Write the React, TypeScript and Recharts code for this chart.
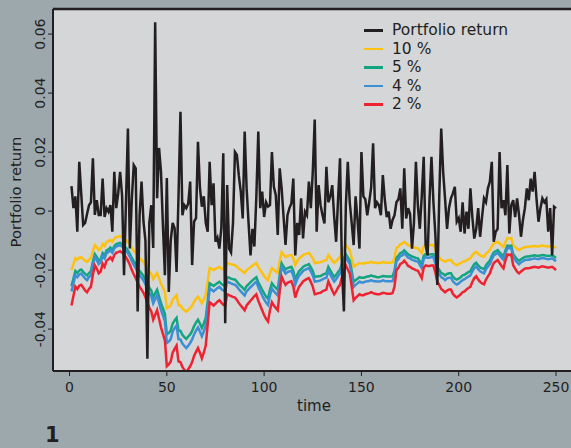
import React from "react";
import { LineChart, Line, CartesianGrid, XAxis, YAxis, ReferenceLine } from "recharts";

// daily portfolio return, t = 1..250
const portfolio = [
  0.0085, 0.001, 0.005, -0.007, 0.0167, 0.006, -0.0047, -0.004, -0.001, 0.002,
  0.003, 0.0179, -0.0013, 0.0037, -0.0013, -0.0013, 0.011, -0.002, 0.001, -0.0002,
  0.002, -0.007, 0.0133, 0.001, 0.006, 0.0133, 0.0053, -0.0217, 0.003, 0.028,
  -0.0127, 0.004, 0.0156, 0.0145, -0.034, -0.0014, 0.01, -0.0036, -0.01, -0.05,
  -0.004, 0.002, -0.0125, 0.064, 0.0044, 0.0214, 0.0133, -0.005, -0.0217, 0.0112,
  -0.0274, -0.01, -0.004, -0.0058, -0.0206, 0.005, 0.0337, -0.0014, 0.002, 0.001,
  0.0026, 0.01, -0.0183, -0.0036, -0.0024, 0.0235, 0.008, 0.0015, 0.005, -0.004,
  -0.007, 0.0167, 0.002, 0.0094, -0.0104, -0.009, -0.0127, -0.0058, 0.0196, -0.038,
  0.0088, -0.0127, -0.014, -0.004, 0.02, 0.019, 0.012, 0.0066, -0.0025, 0.027,
  0.0077, -0.004, -0.015, -0.006, -0.012, 0.005, 0.027, 0.001, 0.0066, -0.002,
  0.003, 0.0015, 0.002, 0.02, 0.0082, 0.0054, -0.0081, 0.0145, 0.0077, -0.002,
  -0.0115, -0.0014, 0.001, 0.0026, 0.011, -0.015, -0.004, -0.0081, 0.0043, -0.0093,
  -0.0002, -0.0014, 0.01, 0.001, 0.0133, 0.031, -0.007, 0.0088, 0.002, -0.0014,
  -0.0042, 0.015, 0.003, 0.005, 0.0088, -0.002, -0.0104, 0.004, 0.0179, -0.0193,
  -0.034, 0.002, 0.0167, 0.003, -0.004, -0.0115, 0.005, -0.003, -0.0127, 0.02,
  0.005, 0.004, -0.0014, 0.003, 0.008, 0.023, 0.001, 0.003, 0.002, -0.0014,
  0.0122, 0.004, -0.002, -0.0002, -0.006, -0.003, -0.0014, 0.003, 0.004, 0.0077,
  -0.006, 0.0145, -0.0025, 0.001, -0.001, -0.0127, -0.004, 0.0167, 0.002, -0.006,
  0.005, 0.0184, -0.0115, -0.015, 0.004, 0.0184, 0.003, -0.008, -0.025, 0.005,
  0.028, 0.0133, 0.004, -0.006, 0.001, 0.0043, 0.006, 0.0082, -0.0036, -0.0024,
  -0.007, 0.003, -0.0076, -0.0002, -0.006, 0.0077, -0.002, -0.0093, -0.006, 0.001,
  -0.0087, -0.002, 0.0043, 0.003, 0.0077, 0.01, 0.0167, -0.0104, -0.007, -0.006,
  0.02, 0.001, 0.0037, -0.0014, 0.0156, -0.0076, 0.002, 0.0037, -0.002, 0.0043,
  -0.0014, -0.0087, -0.003, 0.001, 0.0077, 0.0037, 0.011, 0.0066, 0.0133, 0.004,
  -0.0036, 0.001, 0.0043, 0.003, 0.004, -0.007, 0.001, -0.015, 0.0015, 0.001,
];

const var10 = [
  -0.02, -0.018, -0.016, -0.0165, -0.0158, -0.0156, -0.0162, -0.0168, -0.0172, -0.0165,
  -0.016, -0.0135, -0.0115, -0.0122, -0.0132, -0.0128, -0.0112, -0.0118, -0.0105, -0.0102,
  -0.0098, -0.0104, -0.0093, -0.0088, -0.0087, -0.0085, -0.0088, -0.0092, -0.0098, -0.0105,
  -0.0114, -0.0125, -0.0134, -0.0142, -0.0152, -0.016, -0.0166, -0.0173, -0.0182, -0.0193,
  -0.0205, -0.0212, -0.023, -0.022, -0.021, -0.0228, -0.0246, -0.026, -0.0274, -0.0329,
  -0.0325, -0.0319, -0.03, -0.0292, -0.0285, -0.0319, -0.032, -0.033, -0.0336, -0.0341,
  -0.0335, -0.0329, -0.032, -0.0307, -0.0298, -0.029, -0.03, -0.0312, -0.03, -0.0285,
  -0.024, -0.0193, -0.0196, -0.02, -0.0196, -0.0192, -0.0189, -0.0194, -0.0198, -0.02,
  -0.0176, -0.0178, -0.018, -0.0182, -0.0183, -0.0188, -0.0195, -0.02, -0.0205, -0.021,
  -0.02, -0.0195, -0.019, -0.0185, -0.018, -0.0176, -0.019, -0.02, -0.021, -0.022,
  -0.0228, -0.0234, -0.021, -0.0193, -0.02, -0.0205, -0.021, -0.017, -0.0139, -0.0148,
  -0.0156, -0.0152, -0.015, -0.0149, -0.016, -0.0183, -0.017, -0.016, -0.0155, -0.0149,
  -0.0146, -0.0144, -0.0142, -0.015, -0.016, -0.0176, -0.0175, -0.0174, -0.0173, -0.017,
  -0.0168, -0.0166, -0.0149, -0.0158, -0.0168, -0.0176, -0.017, -0.0162, -0.0156, -0.014,
  -0.0125, -0.0115, -0.0124, -0.0132, -0.016, -0.0189, -0.0184, -0.018, -0.0176, -0.0178,
  -0.0178, -0.0176, -0.0175, -0.0174, -0.0172, -0.0174, -0.0175, -0.0176, -0.0176, -0.0175,
  -0.0173, -0.0174, -0.0175, -0.0175, -0.0175, -0.0174, -0.016, -0.0125, -0.012, -0.0112,
  -0.011, -0.0105, -0.011, -0.0116, -0.0118, -0.0121, -0.0123, -0.0125, -0.0126, -0.0134,
  -0.0142, -0.012, -0.0115, -0.0116, -0.0116, -0.0115, -0.0115, -0.013, -0.0149, -0.0157,
  -0.0165, -0.0168, -0.0172, -0.0168, -0.0166, -0.0166, -0.0175, -0.018, -0.0183, -0.018,
  -0.0176, -0.0172, -0.017, -0.0166, -0.0163, -0.016, -0.015, -0.0142, -0.0138, -0.0145,
  -0.015, -0.0153, -0.0155, -0.0145, -0.0138, -0.0132, -0.012, -0.011, -0.0107, -0.0104,
  -0.011, -0.0116, -0.0121, -0.0105, -0.0092, -0.0093, -0.0092, -0.0115, -0.0122, -0.0128,
  -0.0132, -0.0128, -0.0125, -0.0122, -0.0121, -0.0121, -0.012, -0.0119, -0.0118, -0.0119,
  -0.012, -0.0118, -0.0117, -0.0118, -0.0119, -0.012, -0.0119, -0.0118, -0.0121, -0.0125,
];

const var5 = [
  -0.0254, -0.0229, -0.0203, -0.021, -0.0201, -0.0198, -0.0206, -0.0213, -0.0218, -0.021,
  -0.0203, -0.0171, -0.0146, -0.0155, -0.0168, -0.0163, -0.0142, -0.015, -0.0133, -0.013,
  -0.0124, -0.0132, -0.0118, -0.0112, -0.011, -0.0108, -0.0112, -0.0117, -0.0124, -0.0133,
  -0.0145, -0.0159, -0.017, -0.018, -0.0193, -0.0203, -0.0211, -0.022, -0.0231, -0.0245,
  -0.026, -0.0269, -0.0292, -0.0279, -0.0267, -0.029, -0.0312, -0.033, -0.0348, -0.0418,
  -0.0413, -0.0405, -0.0381, -0.0371, -0.0362, -0.0405, -0.0406, -0.0419, -0.0427, -0.0433,
  -0.0425, -0.0418, -0.0406, -0.039, -0.0378, -0.0368, -0.0381, -0.0396, -0.0381, -0.0362,
  -0.0305, -0.0245, -0.0249, -0.0254, -0.0249, -0.0244, -0.024, -0.0246, -0.0251, -0.0254,
  -0.0224, -0.0226, -0.0229, -0.0231, -0.0232, -0.0239, -0.0248, -0.0254, -0.026, -0.0267,
  -0.0254, -0.0248, -0.0241, -0.0235, -0.0229, -0.0224, -0.0241, -0.0254, -0.0267, -0.0279,
  -0.029, -0.0297, -0.0267, -0.0245, -0.0254, -0.026, -0.0267, -0.0216, -0.0177, -0.0188,
  -0.0198, -0.0193, -0.0191, -0.0189, -0.0203, -0.0232, -0.0216, -0.0203, -0.0197, -0.0189,
  -0.0185, -0.0183, -0.018, -0.0191, -0.0203, -0.0224, -0.0222, -0.0221, -0.022, -0.0216,
  -0.0213, -0.0211, -0.0189, -0.0201, -0.0213, -0.0224, -0.0216, -0.0206, -0.0198, -0.0178,
  -0.0159, -0.0146, -0.0157, -0.0168, -0.0203, -0.024, -0.0234, -0.0229, -0.0224, -0.0226,
  -0.0226, -0.0224, -0.0222, -0.0221, -0.0218, -0.0221, -0.0222, -0.0224, -0.0224, -0.0222,
  -0.022, -0.0221, -0.0222, -0.0222, -0.0222, -0.0221, -0.0203, -0.0159, -0.0152, -0.0142,
  -0.014, -0.0133, -0.014, -0.0147, -0.015, -0.0154, -0.0156, -0.0159, -0.016, -0.017,
  -0.018, -0.0152, -0.0146, -0.0147, -0.0147, -0.0146, -0.0146, -0.0165, -0.0189, -0.0199,
  -0.021, -0.0213, -0.0218, -0.0213, -0.0211, -0.0211, -0.0222, -0.0229, -0.0232, -0.0229,
  -0.0224, -0.0218, -0.0216, -0.0211, -0.0207, -0.0203, -0.0191, -0.018, -0.0175, -0.0184,
  -0.0191, -0.0194, -0.0197, -0.0184, -0.0175, -0.0168, -0.0152, -0.014, -0.0136, -0.0132,
  -0.014, -0.0147, -0.0154, -0.0133, -0.0117, -0.0118, -0.0117, -0.0146, -0.0155, -0.0163,
  -0.0168, -0.0163, -0.0159, -0.0155, -0.0154, -0.0154, -0.0152, -0.0151, -0.015, -0.0151,
  -0.0152, -0.015, -0.0149, -0.015, -0.0151, -0.0152, -0.0151, -0.015, -0.0154, -0.0159,
];

const var4 = [
  -0.0272, -0.0245, -0.0218, -0.0224, -0.0215, -0.0212, -0.022, -0.0228, -0.0234, -0.0224,
  -0.0218, -0.0184, -0.0156, -0.0166, -0.018, -0.0174, -0.0152, -0.016, -0.0143, -0.0139,
  -0.0133, -0.0141, -0.0126, -0.012, -0.0118, -0.0116, -0.012, -0.0125, -0.0133, -0.0143,
  -0.0155, -0.017, -0.0182, -0.0193, -0.0207, -0.0218, -0.0226, -0.0235, -0.0248, -0.0262,
  -0.0279, -0.0288, -0.0313, -0.0299, -0.0286, -0.031, -0.0335, -0.0354, -0.0373, -0.0447,
  -0.0442, -0.0434, -0.0408, -0.0397, -0.0388, -0.0434, -0.0435, -0.0449, -0.0457, -0.0464,
  -0.0456, -0.0447, -0.0435, -0.0418, -0.0405, -0.0394, -0.0408, -0.0424, -0.0408, -0.0388,
  -0.0326, -0.0262, -0.0267, -0.0272, -0.0267, -0.0261, -0.0257, -0.0264, -0.0269, -0.0272,
  -0.0239, -0.0242, -0.0245, -0.0248, -0.0249, -0.0256, -0.0265, -0.0272, -0.0279, -0.0286,
  -0.0272, -0.0265, -0.0258, -0.0252, -0.0245, -0.0239, -0.0258, -0.0272, -0.0286, -0.0299,
  -0.031, -0.0318, -0.0286, -0.0262, -0.0272, -0.0279, -0.0286, -0.0231, -0.0189, -0.0201,
  -0.0212, -0.0207, -0.0204, -0.0203, -0.0218, -0.0249, -0.0231, -0.0218, -0.0211, -0.0203,
  -0.0199, -0.0196, -0.0193, -0.0204, -0.0218, -0.0239, -0.0238, -0.0237, -0.0235, -0.0231,
  -0.0228, -0.0226, -0.0203, -0.0215, -0.0228, -0.0239, -0.0231, -0.022, -0.0212, -0.019,
  -0.017, -0.0156, -0.0169, -0.018, -0.0218, -0.0257, -0.025, -0.0245, -0.0239, -0.0242,
  -0.0242, -0.0239, -0.0238, -0.0237, -0.0234, -0.0237, -0.0238, -0.0239, -0.0239, -0.0238,
  -0.0235, -0.0237, -0.0238, -0.0238, -0.0238, -0.0237, -0.0218, -0.017, -0.0163, -0.0152,
  -0.015, -0.0143, -0.015, -0.0158, -0.016, -0.0165, -0.0167, -0.017, -0.0171, -0.0182,
  -0.0193, -0.0163, -0.0156, -0.0158, -0.0158, -0.0156, -0.0156, -0.0177, -0.0203, -0.0214,
  -0.0224, -0.0228, -0.0234, -0.0228, -0.0226, -0.0226, -0.0238, -0.0245, -0.0249, -0.0245,
  -0.0239, -0.0234, -0.0231, -0.0226, -0.0222, -0.0218, -0.0204, -0.0193, -0.0188, -0.0197,
  -0.0204, -0.0208, -0.0211, -0.0197, -0.0188, -0.018, -0.0163, -0.015, -0.0146, -0.0141,
  -0.015, -0.0158, -0.0165, -0.0143, -0.0125, -0.0126, -0.0125, -0.0156, -0.0166, -0.0174,
  -0.018, -0.0174, -0.017, -0.0166, -0.0165, -0.0165, -0.0163, -0.0162, -0.016, -0.0162,
  -0.0163, -0.016, -0.0159, -0.016, -0.0162, -0.0163, -0.0162, -0.016, -0.0165, -0.017,
];

const var2 = [
  -0.032, -0.0288, -0.0256, -0.0264, -0.0253, -0.025, -0.0259, -0.0269, -0.0275, -0.0264,
  -0.0256, -0.0216, -0.0184, -0.0195, -0.0211, -0.0205, -0.0179, -0.0189, -0.0168, -0.0163,
  -0.0157, -0.0166, -0.0149, -0.0141, -0.0139, -0.0136, -0.0141, -0.0147, -0.0157, -0.0168,
  -0.0182, -0.02, -0.0214, -0.0227, -0.0243, -0.0256, -0.0266, -0.0277, -0.0291, -0.0309,
  -0.0328, -0.0339, -0.0368, -0.0352, -0.0336, -0.0365, -0.0394, -0.0416, -0.0438, -0.0526,
  -0.052, -0.051, -0.048, -0.0467, -0.0456, -0.051, -0.0512, -0.0528, -0.0538, -0.0546,
  -0.0536, -0.0526, -0.0512, -0.0491, -0.0477, -0.0464, -0.048, -0.0499, -0.048, -0.0456,
  -0.0384, -0.0309, -0.0314, -0.032, -0.0314, -0.0307, -0.0302, -0.031, -0.0317, -0.032,
  -0.0282, -0.0285, -0.0288, -0.0291, -0.0293, -0.0301, -0.0312, -0.032, -0.0328, -0.0336,
  -0.032, -0.0312, -0.0304, -0.0296, -0.0288, -0.0282, -0.0304, -0.032, -0.0336, -0.0352,
  -0.0365, -0.0374, -0.0336, -0.0309, -0.032, -0.0328, -0.0336, -0.0272, -0.0222, -0.0237,
  -0.025, -0.0243, -0.024, -0.0238, -0.0256, -0.0293, -0.0272, -0.0256, -0.0248, -0.0238,
  -0.0234, -0.023, -0.0227, -0.024, -0.0256, -0.0282, -0.028, -0.0278, -0.0277, -0.0272,
  -0.0269, -0.0266, -0.0238, -0.0253, -0.0269, -0.0282, -0.0272, -0.0259, -0.025, -0.0224,
  -0.02, -0.0184, -0.0198, -0.0211, -0.0256, -0.0302, -0.0294, -0.0288, -0.0282, -0.0285,
  -0.0285, -0.0282, -0.028, -0.0278, -0.0275, -0.0278, -0.028, -0.0282, -0.0282, -0.028,
  -0.0277, -0.0278, -0.028, -0.028, -0.028, -0.0278, -0.0256, -0.02, -0.0192, -0.0179,
  -0.0176, -0.0168, -0.0176, -0.0186, -0.0189, -0.0194, -0.0197, -0.02, -0.0202, -0.0214,
  -0.0227, -0.0192, -0.0184, -0.0186, -0.0186, -0.0184, -0.0184, -0.0208, -0.0238, -0.0251,
  -0.0264, -0.0269, -0.0275, -0.0269, -0.0266, -0.0266, -0.028, -0.0288, -0.0293, -0.0288,
  -0.0282, -0.0275, -0.0272, -0.0266, -0.0261, -0.0256, -0.024, -0.0227, -0.0221, -0.0232,
  -0.024, -0.0245, -0.0248, -0.0232, -0.0221, -0.0211, -0.0192, -0.0176, -0.0171, -0.0166,
  -0.0176, -0.0186, -0.0194, -0.0168, -0.0147, -0.0149, -0.0147, -0.0184, -0.0195, -0.0205,
  -0.0211, -0.0205, -0.02, -0.0195, -0.0194, -0.0194, -0.0192, -0.019, -0.0189, -0.019,
  -0.0192, -0.0189, -0.0187, -0.0189, -0.019, -0.0192, -0.019, -0.0189, -0.0194, -0.02,
];

const xTicks = [0, 50, 100, 150, 200, 250];
const yTicks = [-0.04, -0.02, 0, 0.02, 0.04, 0.06];
const yTickLabels = ["-0.04", "-0.02", "0", "0.02", "0.04", "0.06"];

const series = [
  { key: "portfolio", name: "Portfolio return", color: "#231f20" },
  { key: "v10", name: "10 %", color: "#fdc20f" },
  { key: "v5", name: "5 %", color: "#13a480" },
  { key: "v4", name: "4 %", color: "#3b8fd4" },
  { key: "v2", name: "2 %", color: "#ee2331" },
];

const data = portfolio.map((p, i) => ({
  time: i + 1,
  portfolio: p,
  v10: var10[i],
  v5: var5[i],
  v4: var4[i],
  v2: var2[i],
}));

const FONT = '"DejaVu Sans", sans-serif';
const INK = "#231f20";
const Y_MIN = -0.0542;
const Y_MAX = 0.0685;

function YTick({ x, y, payload }: any) {
  const idx = yTicks.indexOf(payload.value);
  const label = idx >= 0 ? yTickLabels[idx] : String(payload.value);
  const bx = x - 1;
  return (
    <text x={bx} y={y} transform={`rotate(-90 ${bx} ${y})`} textAnchor="middle" fill={INK} fontSize={14} fontFamily={FONT}>
      {label}
    </text>
  );
}

export default function App() {
  return (
    <div style={{ position: "absolute", left: 0, top: 0, width: 571, height: 448, background: "#9da8ad", overflow: "hidden", fontFamily: FONT, color: INK }}>
      <LineChart width={571} height={448} data={data} margin={{ top: 9, right: 0, bottom: 47, left: 0 }}>
        <CartesianGrid horizontal={false} vertical={false} fill="#d4d6d7" stroke="none" />
        <XAxis
          dataKey="time"
          type="number"
          domain={[-8.5, 257.7]}
          ticks={xTicks}
          allowDataOverflow
          height={30}
          tickSize={5}
          tickMargin={6}
          axisLine={{ stroke: INK, strokeWidth: 2 }}
          tickLine={{ stroke: INK }}
          tick={{ fill: INK, fontSize: 14, fontFamily: FONT }}
        />
        <YAxis
          type="number"
          domain={[Y_MIN, Y_MAX]}
          ticks={yTicks}
          allowDataOverflow
          width={53}
          tickSize={5}
          tickMargin={2}
          axisLine={{ stroke: INK, strokeWidth: 2 }}
          tickLine={{ stroke: INK }}
          tick={<YTick />}
        />
        <ReferenceLine y={Y_MAX} stroke={INK} strokeWidth={2.5} />
        {series.slice(1).map((s) => (
          <Line key={s.key} type="linear" dataKey={s.key} stroke={s.color} strokeWidth={2.5} dot={false} isAnimationActive={false} />
        ))}
        <Line type="linear" dataKey="portfolio" stroke={series[0].color} strokeWidth={2.5} dot={false} isAnimationActive={false} />
      </LineChart>

      <svg style={{ position: "absolute", left: 0, top: 0 }} width={40} height={448}>
        <text x={21} y={192} transform="rotate(-90 21 192)" textAnchor="middle" fill={INK} fontSize={14.8} fontFamily={FONT}>
          Portfolio return
        </text>
      </svg>

      <div style={{ position: "absolute", left: 314, top: 398, transform: "translateX(-50%)", fontSize: 15, lineHeight: "17px" }}>time</div>

      <div style={{ position: "absolute", left: 45, top: 423, fontSize: 21, fontWeight: 700, lineHeight: "24px" }}>1</div>

      <div style={{ position: "absolute", left: 364, top: 21 }}>
        {series.map((s) => (
          <div key={s.key} style={{ display: "flex", alignItems: "center", height: 18.5, fontSize: 15.5, lineHeight: "18px" }}>
            <span style={{ display: "inline-block", width: 19, height: 2.5, background: s.color, marginRight: 9 }} />
            <span style={{ lineHeight: "18px" }}>{s.name}</span>
          </div>
        ))}
      </div>
    </div>
  );
}
